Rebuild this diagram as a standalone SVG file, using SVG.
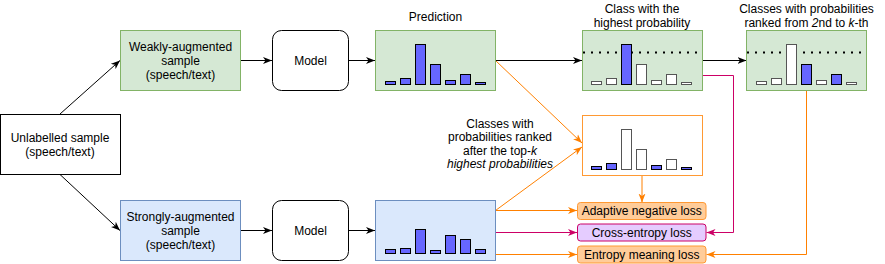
<svg xmlns="http://www.w3.org/2000/svg" width="885" height="264" viewBox="0 0 885 264">
<style>
text{font-family:"Liberation Sans",Arial,Helvetica,sans-serif;font-size:12px;fill:#000;text-anchor:middle}
.it{font-style:italic}
.plain{fill:#fff;stroke:#000;stroke-width:1}
.green{fill:#d5e8d4;stroke:#82b366;stroke-width:1}
.blue{fill:#dae8fc;stroke:#6c8ebf;stroke-width:1}
.ob{fill:#fff;stroke:#ff9933;stroke-width:1}
.loss{fill:#ffcc99;stroke:#ff9933;stroke-width:1}
.ce{fill:#e5ccff;stroke:#cc0066;stroke-width:1}
.bb{fill:#6666ff;stroke:#000;stroke-width:1}
.bw{fill:#fff;stroke:#555;stroke-width:1}
.dot{stroke:#000;stroke-width:2;stroke-dasharray:2 6;fill:none}
.k{stroke:#000;stroke-width:1;fill:none}
.o{stroke:#ff8000;stroke-width:1;fill:none}
.m{stroke:#cc0066;stroke-width:1;fill:none}
</style>
<defs>
<marker id="ak" markerUnits="userSpaceOnUse" markerWidth="10" markerHeight="8" viewBox="0 0 10 8" refX="9" refY="4" orient="auto"><path d="M0,0.5 L9,4 L0,7.5 L2.5,4 Z" fill="#000"/></marker>
<marker id="ao" markerUnits="userSpaceOnUse" markerWidth="10" markerHeight="8" viewBox="0 0 10 8" refX="9" refY="4" orient="auto"><path d="M0,0.5 L9,4 L0,7.5 L2.5,4 Z" fill="#ff8000"/></marker>
<marker id="am" markerUnits="userSpaceOnUse" markerWidth="10" markerHeight="8" viewBox="0 0 10 8" refX="9" refY="4" orient="auto"><path d="M0,0.5 L9,4 L0,7.5 L2.5,4 Z" fill="#cc0066"/></marker>
</defs>

<g id="connectors">
<path class="k" d="M60,114 L120,60.5" marker-end="url(#ak)"/>
<path class="k" d="M60,174.5 L120,230.5" marker-end="url(#ak)"/>
<path class="k" d="M240.5,60.5 L272,60.5" marker-end="url(#ak)"/>
<path class="k" d="M240.5,230.5 L272,230.5" marker-end="url(#ak)"/>
<path class="k" d="M348.5,60.5 L375,60.5" marker-end="url(#ak)"/>
<path class="k" d="M348.5,230.5 L375,230.5" marker-end="url(#ak)"/>
<path class="k" d="M495.5,60.5 L582,60.5" marker-end="url(#ak)"/>
<path class="k" d="M702.5,60.5 L746.5,60.5" marker-end="url(#ak)"/>
<path class="o" d="M495.5,60.5 L582,143" marker-end="url(#ao)"/>
<path class="o" d="M495.5,210.5 L582,147" marker-end="url(#ao)"/>
<path class="o" d="M642,175.5 L642,202.5" marker-end="url(#ao)"/>
<path class="o" d="M495.5,210.5 L577,210.5" marker-end="url(#ao)"/>
<path class="m" d="M495.5,232.5 L577,232.5" marker-end="url(#am)"/>
<path class="o" d="M495.5,254.5 L577,254.5" marker-end="url(#ao)"/>
<path class="m" d="M702.5,75.5 L733.5,75.5 L733.5,232.5 L706.5,232.5" marker-end="url(#am)"/>
<path class="o" d="M806.5,90.5 L806.5,254.5 L706.5,254.5" marker-end="url(#ao)"/>
</g>

<g id="unlabelled">
<rect class="plain" x="0.5" y="114.5" width="120" height="60"/>
<text x="60" y="141.5">Unlabelled sample</text>
<text x="60" y="155.5">(speech/text)</text>
</g>

<g id="weak">
<rect class="green" x="120.5" y="30.5" width="120" height="60"/>
<text x="180.5" y="50.5">Weakly-augmented</text>
<text x="180.5" y="64.5">sample</text>
<text x="180.5" y="78.5">(speech/text)</text>
</g>

<g id="strong">
<rect class="blue" x="120.5" y="200.5" width="120" height="60"/>
<text x="180.5" y="220.5">Strongly-augmented</text>
<text x="180.5" y="234.5">sample</text>
<text x="180.5" y="248.5">(speech/text)</text>
</g>

<g id="model1">
<rect class="plain" x="272.5" y="30.5" width="76" height="60" rx="9"/>
<text x="310.5" y="64.5">Model</text>
</g>

<g id="model2">
<rect class="plain" x="272.5" y="200.5" width="76" height="60" rx="9"/>
<text x="310.5" y="234.5">Model</text>
</g>

<g id="prediction">
<text x="435.5" y="21">Prediction</text>
<rect class="green" x="375.5" y="30.5" width="120" height="60"/>
<rect class="bb" x="385.5" y="81.5" width="10" height="3"/>
<rect class="bb" x="400.5" y="78.5" width="10" height="6"/>
<rect class="bb" x="415.5" y="44.5" width="10" height="40"/>
<rect class="bb" x="430.5" y="64.5" width="10" height="20"/>
<rect class="bb" x="445.5" y="80.5" width="10" height="4"/>
<rect class="bb" x="460.5" y="74.5" width="10" height="10"/>
<rect class="bb" x="475.5" y="82.5" width="10" height="2"/>
</g>

<g id="strong-prediction">
<rect class="blue" x="375.5" y="200.5" width="120" height="60"/>
<rect class="bb" x="385.5" y="249.5" width="10" height="4"/>
<rect class="bb" x="400.5" y="248.5" width="10" height="5"/>
<rect class="bb" x="415.5" y="229.5" width="10" height="24"/>
<rect class="bb" x="430.5" y="250.5" width="10" height="3"/>
<rect class="bb" x="445.5" y="235.5" width="10" height="18"/>
<rect class="bb" x="460.5" y="239.5" width="10" height="14"/>
<rect class="bb" x="475.5" y="249.5" width="10" height="4"/>
</g>

<g id="highest">
<text x="642" y="12.5">Class with the</text>
<text x="642" y="27">highest probability</text>
<rect class="green" x="582.5" y="30.5" width="120" height="60"/>
<path class="dot" d="M583,52.5 L700,52.5"/>
<rect class="bw" x="591.5" y="81.5" width="10" height="3"/>
<rect class="bw" x="606.5" y="78.5" width="10" height="6"/>
<rect class="bb" x="621.5" y="44.5" width="10" height="40"/>
<rect class="bw" x="636.5" y="64.5" width="10" height="20"/>
<rect class="bw" x="651.5" y="80.5" width="10" height="4"/>
<rect class="bw" x="666.5" y="74.5" width="10" height="10"/>
<rect class="bw" x="681.5" y="82.5" width="10" height="2"/>
</g>

<g id="ranked">
<text x="806.5" y="12.5">Classes with probabilities</text>
<text x="806.5" y="27">ranked from <tspan class="it">2</tspan>nd to <tspan class="it">k</tspan>-th</text>
<rect class="green" x="746.5" y="30.5" width="120" height="60"/>
<path class="dot" d="M747,52.5 L864,52.5"/>
<rect class="bw" x="756.5" y="81.5" width="10" height="3"/>
<rect class="bw" x="771.5" y="78.5" width="10" height="6"/>
<rect class="bw" x="786.5" y="44.5" width="10" height="40"/>
<rect class="bb" x="801.5" y="64.5" width="10" height="20"/>
<rect class="bw" x="816.5" y="80.5" width="10" height="4"/>
<rect class="bb" x="831.5" y="74.5" width="10" height="10"/>
<rect class="bw" x="846.5" y="82.5" width="10" height="2"/>
</g>

<g id="negative">
<rect class="ob" x="582.5" y="115.5" width="120" height="60"/>
<rect class="bb" x="591.5" y="166.5" width="10" height="3"/>
<rect class="bb" x="606.5" y="163.5" width="10" height="6"/>
<rect class="bw" x="621.5" y="129.5" width="10" height="40"/>
<rect class="bw" x="636.5" y="149.5" width="10" height="20"/>
<rect class="bb" x="651.5" y="165.5" width="10" height="4"/>
<rect class="bw" x="666.5" y="159.5" width="10" height="10"/>
<rect class="bb" x="681.5" y="167.5" width="10" height="2"/>
</g>

<g id="negative-label">
<text x="500" y="127.5">Classes with</text>
<text x="500" y="141">probabilities ranked</text>
<text x="500" y="154.5">after the top-<tspan class="it">k</tspan></text>
<text x="500" y="168" class="it">highest probabilities</text>
</g>

<g id="adaptive-loss">
<rect class="loss" x="577.5" y="202.5" width="128.5" height="17" rx="3"/>
<text x="641.7" y="215.3">Adaptive negative loss</text>
</g>

<g id="ce-loss">
<rect class="ce" x="577.5" y="224" width="128.5" height="17" rx="3"/>
<text x="641.7" y="236.8">Cross-entropy loss</text>
</g>

<g id="entropy-loss">
<rect class="loss" x="577.5" y="246" width="128.5" height="17" rx="3"/>
<text x="641.7" y="258.8">Entropy meaning loss</text>
</g>
</svg>
